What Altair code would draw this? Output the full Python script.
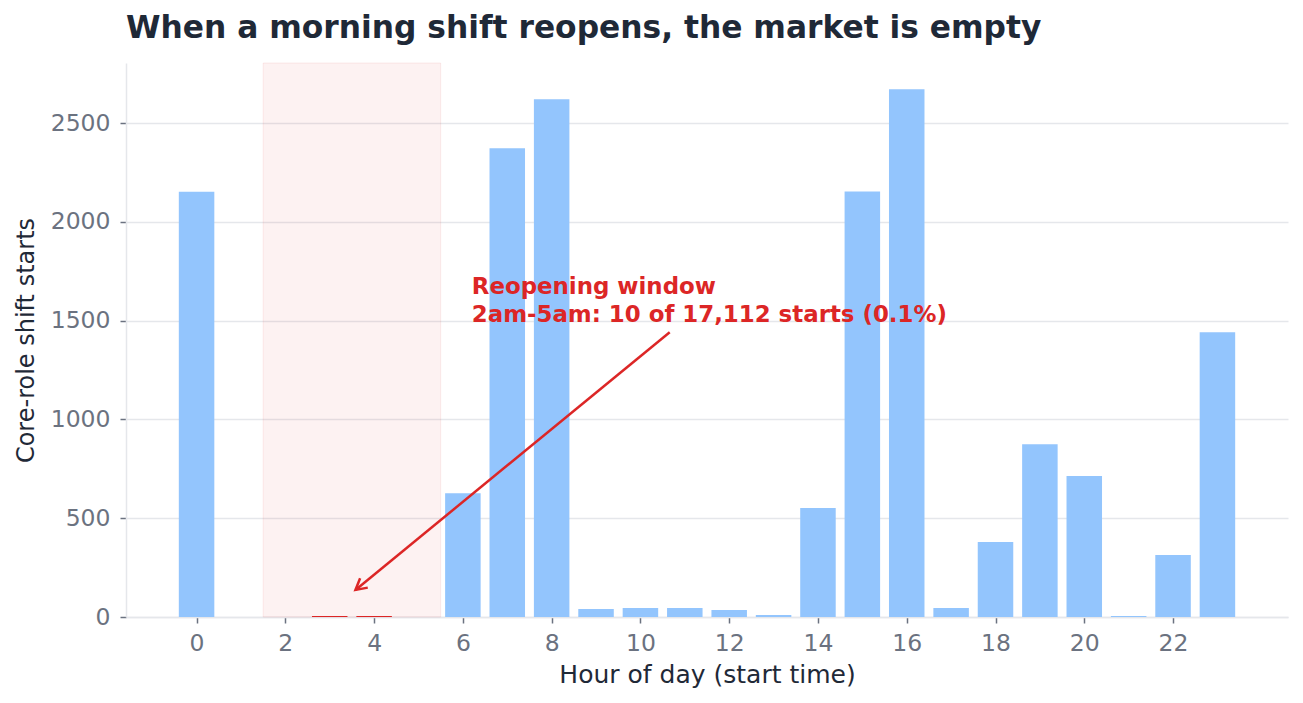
import altair as alt
import pandas as pd

hours = list(range(24))
starts = [2153, 0, 0, 5, 5, 0, 627, 2373, 2621, 40, 45, 45, 35, 10, 552, 2154,
          2672, 45, 380, 875, 714, 5, 314, 1442]
window_hours = [2, 3, 4, 5]
x_ticks = [0, 2, 4, 6, 8, 10, 12, 14, 16, 18, 20, 22]
y_ticks = [0, 500, 1000, 1500, 2000, 2500]

title_text = "When a morning shift reopens, the market is empty"
annot_lines = ["Reopening window", "2am-5am: 10 of 17,112 starts (0.1%)"]

BLUE = "#93c5fd"
RED = "#dc2626"
FONT = "DejaVu Sans"

df = pd.DataFrame({"hour": hours, "starts": starts})
df["color"] = [RED if h in window_hours else BLUE for h in hours]

xscale = alt.Scale(domain=[-1.59, 24.59], nice=False, zero=False)
yscale = alt.Scale(domain=[0, 2805], nice=False)

W, H = 1162, 554

shade = alt.Chart(pd.DataFrame({"x0": [1.5], "x1": [5.5]})).mark_rect(
    fill=RED, fillOpacity=0.06, stroke=RED, strokeOpacity=0.08, strokeWidth=1
).encode(
    x=alt.X("x0:Q", scale=xscale),
    x2="x1:Q",
    y=alt.value(0),
    y2=alt.value(H),
)

bars = alt.Chart(df).transform_calculate(
    xa="datum.hour - 0.4", xb="datum.hour + 0.4"
).mark_rect().encode(
    x=alt.X(
        "xa:Q",
        scale=xscale,
        axis=alt.Axis(
            title="Hour of day (start time)",
            values=x_ticks,
            format="d",
            grid=False,
            labelFont=FONT,
            labelFontSize=23.5,
            labelColor="#6b7280",
            labelPadding=8,
            tickColor="#6b7280",
            tickSize=6,
            tickWidth=1.5,
            domainColor="#e5e7eb",
            domainWidth=1.5,
            titleFont=FONT,
            titleFontSize=25,
            titleFontWeight="normal",
            titleColor="#1f2937",
            titlePadding=8,
        ),
    ),
    x2="xb:Q",
    y=alt.Y(
        "starts:Q",
        scale=yscale,
        axis=alt.Axis(
            title="Core-role shift starts",
            values=y_ticks,
            format="d",
            grid=True,
            gridColor="#e5e7eb",
            gridWidth=1.5,
            labelFont=FONT,
            labelFontSize=23.5,
            labelColor="#6b7280",
            labelPadding=10,
            tickColor="#6b7280",
            tickSize=6,
            tickWidth=1.5,
            domainColor="#e5e7eb",
            domainWidth=1.5,
            titleFont=FONT,
            titleFontSize=24,
            titleFontWeight="normal",
            titleColor="#1f2937",
            titlePadding=12,
        ),
    ),
    y2=alt.datum(0),
    color=alt.Color("color:N", scale=None),
)

arrow_df = pd.DataFrame({"x0": [10.66], "y0": [1442], "x1": [3.58], "y1": [137]})
arrow_line = alt.Chart(arrow_df).mark_rule(color=RED, strokeWidth=2.5).encode(
    x=alt.X("x0:Q", scale=xscale), y=alt.Y("y0:Q", scale=yscale),
    x2="x1:Q", y2="y1:Q",
)
arrow_head = alt.Chart(arrow_df).mark_point(
    shape="M -1 -0.55 L 0 0 L -1 0.55", filled=False, stroke=RED,
    strokeWidth=2.5, size=480, angle=140.6, opacity=1,
).encode(x=alt.X("x1:Q", scale=xscale), y=alt.Y("y1:Q", scale=yscale))

annot = alt.Chart(pd.DataFrame({"x": [6.2], "y": [1635]})).mark_text(
    text=annot_lines, align="left", baseline="alphabetic", font=FONT,
    fontSize=22.9, fontWeight="bold", color=RED, lineHeight=28,
).encode(x=alt.X("x:Q", scale=xscale), y=alt.Y("y:Q", scale=yscale))

chart = alt.layer(shade, bars, arrow_line, arrow_head, annot).properties(
    width=W,
    height=H,
    title=alt.TitleParams(
        text=title_text, anchor="start", frame="group", font=FONT, fontSize=31.3,
        fontWeight="bold", color="#1f2937", offset=18,
    ),
    autosize=alt.AutoSizeParams(type="none"),
    padding={"left": 126, "top": 63, "right": 15, "bottom": 86},
).configure(background="white", view=alt.ViewConfig(stroke=None))

chart.save("out.html", embed_options={"renderer": "svg", "actions": False})
